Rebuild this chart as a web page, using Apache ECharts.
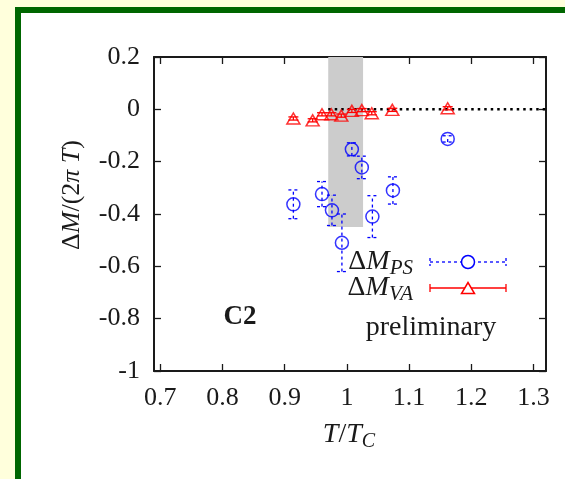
<!DOCTYPE html>
<html>
<head>
<meta charset="utf-8">
<script src="https://cdn.jsdelivr.net/npm/echarts@6/dist/echarts.min.js"></script>
<style>
  html, body { margin: 0; padding: 0; background: #FFFFDC; }
  #chart { width: 565px; height: 479px; }
</style>
</head>
<body>
<div id="chart"></div>
<script>
// Pseudoscalar mass shift ΔM_PS / (2πT) with errors
const tempPS   = [0.914, 0.960, 0.976, 0.992, 1.008, 1.024, 1.041, 1.074, 1.162];
const deltaPS  = [-0.363, -0.324, -0.386, -0.510, -0.153, -0.222, -0.410, -0.310, -0.113];
const errPS    = [0.055, 0.048, 0.058, 0.110, 0.025, 0.043, 0.080, 0.052, 0.012];

// Vector / axial-vector mass shift ΔM_VA / (2πT) with errors
const tempVA   = [0.914, 0.945, 0.960, 0.975, 0.991, 1.008, 1.024, 1.040, 1.073, 1.162];
const deltaVA  = [-0.035, -0.042, -0.019, -0.019, -0.024, -0.006, -0.003, -0.015, -0.002, 0.004];
const errVA    = [0.006, 0.006, 0.006, 0.006, 0.006, 0.006, 0.006, 0.006, 0.006, 0.006];

// Crossover region (T/Tc range) and its lower edge
const bandT      = [0.97, 1.026];
const bandBottom = -0.45;

// Zero reference line, drawn from the crossover region outward
const zeroLineT = [0.97, 1.32];

// Axis ranges and tick positions
const xRange = [0.69, 1.32];
const yRange = [-1, 0.2];
const xTicks = [0.7, 0.8, 0.9, 1.0, 1.1, 1.2, 1.3];
const yTicks = [-1, -0.8, -0.6, -0.4, -0.2, 0, 0.2];

const SERIF = '"Liberation Serif", "Times New Roman", serif';
const INK = '#1a1a1a';
const BLUE = '#0000FF';
const RED = '#FF0000';

function fmt(v) { return String(+(+v).toFixed(1)); }

function errorBars(color, dash, cap) {
  return function (params, api) {
    const x = api.value(0);
    const lo = api.coord([x, api.value(1)]);
    const hi = api.coord([x, api.value(2)]);
    const style = { stroke: color, lineWidth: 1.3, lineDash: dash, fill: null };
    return {
      type: 'group',
      children: [
        { type: 'line', shape: { x1: lo[0], y1: lo[1], x2: hi[0], y2: hi[1] }, style: style },
        { type: 'line', shape: { x1: lo[0] - cap, y1: lo[1], x2: lo[0] + cap, y2: lo[1] }, style: style },
        { type: 'line', shape: { x1: hi[0] - cap, y1: hi[1], x2: hi[0] + cap, y2: hi[1] }, style: style }
      ]
    };
  };
}

// rich-text styles for math-like labels: upright, italic, italic subscript
function mathRich(size, subSize) {
  return {
    u: { fontFamily: SERIF, fontSize: size, fill: INK, lineHeight: size + 6 },
    i: { fontFamily: SERIF, fontSize: size, fontStyle: 'italic', fill: INK, lineHeight: size + 6 },
    s: { fontFamily: SERIF, fontSize: subSize, fontStyle: 'italic', fill: INK, lineHeight: size + 6, verticalAlign: 'bottom' }
  };
}

const axisCommon = {
  type: 'value',
  splitLine: { show: false },
  axisLine: { show: true, onZero: false, lineStyle: { color: INK, width: 2 } },
  axisTick: { show: true, inside: true, length: 7, lineStyle: { color: INK, width: 1.3 } }
};

const chart = echarts.init(document.getElementById('chart'), null, { renderer: 'canvas' });

chart.setOption({
  animation: false,
  backgroundColor: 'transparent',
  grid: { left: 154, top: 57, width: 392, height: 314, containLabel: false, outerBoundsMode: 'none' },
  xAxis: [
    Object.assign({}, axisCommon, {
      position: 'bottom', min: xRange[0], max: xRange[1],
      axisTick: Object.assign({}, axisCommon.axisTick, { customValues: xTicks }),
      axisLabel: { customValues: xTicks, formatter: fmt, margin: 14,
        fontFamily: SERIF, fontSize: 26, color: INK }
    }),
    Object.assign({}, axisCommon, {
      position: 'top', min: xRange[0], max: xRange[1],
      axisTick: Object.assign({}, axisCommon.axisTick, { customValues: xTicks }),
      axisLabel: { show: false }
    })
  ],
  yAxis: [
    Object.assign({}, axisCommon, {
      position: 'left', min: yRange[0], max: yRange[1],
      axisTick: Object.assign({}, axisCommon.axisTick, { customValues: yTicks }),
      axisLabel: { customValues: yTicks, formatter: fmt, margin: 14,
        fontFamily: SERIF, fontSize: 26, color: INK }
    }),
    Object.assign({}, axisCommon, {
      position: 'right', min: yRange[0], max: yRange[1],
      axisTick: Object.assign({}, axisCommon.axisTick, { customValues: yTicks }),
      axisLabel: { show: false }
    })
  ],
  graphic: [
    { type: 'rect', z: -20, silent: true, shape: { x: 15, y: 7, width: 560, height: 480 }, style: { fill: '#006600' } },
    { type: 'rect', z: -19, silent: true, shape: { x: 21, y: 13, width: 560, height: 480 }, style: { fill: '#FFFFFF' } },
    // axis titles
    { type: 'text', x: 72, y: 195, rotation: Math.PI / 2, silent: true,
      style: {
        text: '{u|Δ}{i|M}{u|/(2}{i|π T}{u|)}', align: 'center', verticalAlign: 'middle',
        rich: mathRich(26, 18)
      } },
    { type: 'text', x: 349, y: 435, silent: true,
      style: {
        text: '{i|T}{u|/}{i|T}{s|C}', align: 'center', verticalAlign: 'middle',
        rich: mathRich(28, 20)
      } },
    // annotations
    { type: 'text', x: 240, y: 317, silent: true,
      style: { text: 'C2', fontFamily: SERIF, fontSize: 27, fontWeight: 'bold', fill: INK, align: 'center', verticalAlign: 'middle' } },
    { type: 'text', x: 431, y: 328, silent: true,
      style: { text: 'preliminary', fontFamily: SERIF, fontSize: 28, fill: INK, align: 'center', verticalAlign: 'middle' } },
    // key
    { type: 'text', x: 413, y: 262, silent: true,
      style: { text: '{u|Δ}{i|M}{s|PS}', align: 'right', verticalAlign: 'middle', rich: mathRich(28, 21) } },
    { type: 'text', x: 413, y: 288, silent: true,
      style: { text: '{u|Δ}{i|M}{s|VA}', align: 'right', verticalAlign: 'middle', rich: mathRich(28, 21) } },
    { type: 'group', silent: true, children: [
      { type: 'line', shape: { x1: 430, y1: 262, x2: 506, y2: 262 }, style: { stroke: BLUE, lineWidth: 1.3, lineDash: [3, 3] } },
      { type: 'line', shape: { x1: 430, y1: 258, x2: 430, y2: 266 }, style: { stroke: BLUE, lineWidth: 1.3, lineDash: [3, 3] } },
      { type: 'line', shape: { x1: 506, y1: 258, x2: 506, y2: 266 }, style: { stroke: BLUE, lineWidth: 1.3, lineDash: [3, 3] } },
      { type: 'circle', shape: { cx: 468, cy: 262, r: 6.5 }, style: { stroke: BLUE, lineWidth: 1.5, fill: '#FFFFFF' } },
      { type: 'line', shape: { x1: 430, y1: 288, x2: 506, y2: 288 }, style: { stroke: RED, lineWidth: 1.3 } },
      { type: 'line', shape: { x1: 430, y1: 284, x2: 430, y2: 292 }, style: { stroke: RED, lineWidth: 1.3 } },
      { type: 'line', shape: { x1: 506, y1: 284, x2: 506, y2: 292 }, style: { stroke: RED, lineWidth: 1.3 } },
      { type: 'polygon', shape: { points: [[461.5, 293.5], [474.5, 293.5], [468, 282.5]] }, style: { stroke: RED, lineWidth: 1.5, fill: '#FFFFFF' } }
    ] }
  ],
  series: [
    {
      name: 'crossover',
      type: 'custom',
      z: 1,
      silent: true,
      data: [[bandT[0], bandT[1], bandBottom, yRange[1]]],
      renderItem: function (params, api) {
        const p0 = api.coord([api.value(0), api.value(3)]);
        const p1 = api.coord([api.value(1), api.value(2)]);
        return { type: 'rect', shape: { x: p0[0], y: p0[1], width: p1[0] - p0[0], height: p1[1] - p0[1] },
                 style: { fill: '#CCCCCC' } };
      },
      encode: { x: [0, 1], y: [2, 3] }
    },
    {
      name: 'zero',
      type: 'line',
      z: 2,
      silent: true,
      symbol: 'none',
      data: zeroLineT.map(t => [t, 0]),
      lineStyle: { color: '#000000', width: 2.5, type: [2.5, 4] }
    },
    {
      name: 'PS errors',
      type: 'custom',
      z: 3,
      silent: true,
      data: tempPS.map((t, i) => [t, deltaPS[i] - errPS[i], deltaPS[i] + errPS[i]]),
      renderItem: errorBars(BLUE, [3, 3], 5),
      encode: { x: 0, y: [1, 2] }
    },
    {
      name: 'VA errors',
      type: 'custom',
      z: 3,
      silent: true,
      data: tempVA.map((t, i) => [t, deltaVA[i] - errVA[i], deltaVA[i] + errVA[i]]),
      renderItem: errorBars(RED, null, 5),
      encode: { x: 0, y: [1, 2] }
    },
    {
      name: 'ΔM_PS',
      type: 'scatter',
      z: 4,
      data: tempPS.map((t, i) => [t, deltaPS[i]]),
      symbol: 'circle',
      symbolSize: 13,
      itemStyle: { color: 'transparent', borderColor: BLUE, borderWidth: 1.5 }
    },
    {
      name: 'ΔM_VA',
      type: 'scatter',
      z: 4,
      data: tempVA.map((t, i) => [t, deltaVA[i]]),
      symbol: 'triangle',
      symbolSize: [13, 11],
      itemStyle: { color: 'transparent', borderColor: RED, borderWidth: 1.5 }
    }
  ]
});
</script>
</body>
</html>
